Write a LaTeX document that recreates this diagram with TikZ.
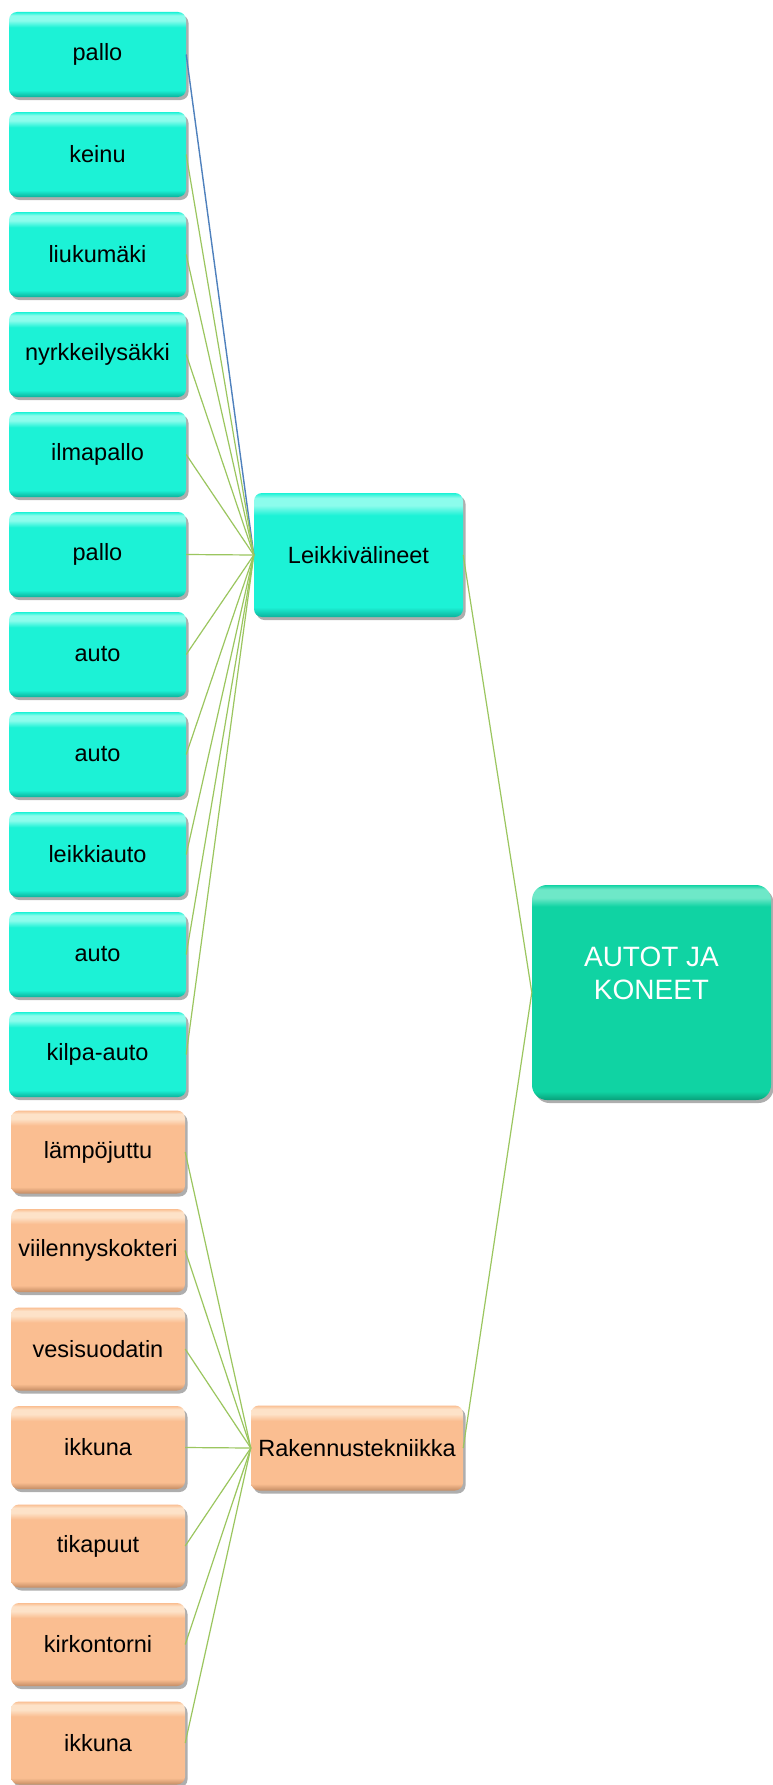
\documentclass[tikz,border=0pt]{standalone}
\usepackage{fontspec}
\setmainfont{Liberation Sans}
\usetikzlibrary{shadows}

\definecolor{cyanB}{RGB}{28,242,214}
\definecolor{cyanL}{RGB}{140,252,236}
\definecolor{cyanD}{RGB}{12,178,156}
\definecolor{orangeB}{RGB}{250,190,145}
\definecolor{orangeL}{RGB}{253,226,200}
\definecolor{orangeD}{RGB}{196,140,100}
\definecolor{tealB}{RGB}{16,211,163}
\definecolor{tealL}{RGB}{110,232,200}
\definecolor{tealD}{RGB}{8,160,122}
\definecolor{linkgreen}{RGB}{155,198,95}
\definecolor{linkblue}{RGB}{79,129,189}

% bevelled fills: dark bottom rim, flat body, light band under the top edge
\pgfdeclareverticalshading{cyanbevel}{100bp}{color(0bp)=(cyanD); color(25bp)=(cyanD); color(29bp)=(cyanB); color(66bp)=(cyanB); color(70bp)=(cyanL); color(73bp)=(cyanL); color(75bp)=(cyanB); color(100bp)=(cyanB)}
\pgfdeclareverticalshading{orangebevel}{100bp}{color(0bp)=(orangeD); color(25bp)=(orangeD); color(29bp)=(orangeB); color(66bp)=(orangeB); color(70bp)=(orangeL); color(73bp)=(orangeL); color(75bp)=(orangeB); color(100bp)=(orangeB)}
\pgfdeclareverticalshading{tealbevel}{100bp}{color(0bp)=(tealD); color(25bp)=(tealD); color(27bp)=(tealB); color(70bp)=(tealB); color(72bp)=(tealL); color(74bp)=(tealL); color(75bp)=(tealB); color(100bp)=(tealB)}

\begin{document}
\begin{tikzpicture}[x=1pt,y=1pt,
  box/.style={rounded corners=8pt, inner sep=0pt, align=center,
    font=\fontsize{23.5}{28}\selectfont, text=black,
    drop shadow={shadow xshift=2.5pt, shadow yshift=-3pt, opacity=0.45, fill=black!70}},
  leaf/.style={box, minimum width=177pt, minimum height=85pt, shading=cyanbevel},
  oleaf/.style={box, minimum width=174pt, minimum height=83pt, shading=orangebevel},
  link/.style={draw=linkgreen, line width=1.2pt},
  bluelink/.style={draw=linkblue, line width=1.4pt}]

\useasboundingbox (0,-1785) rectangle (773,0);
\fill[white] (0,-1785) rectangle (773,0);

% leaf items, left column
\foreach \t [count=\i from 0] in {pallo,keinu,liukumäki,nyrkkeilysäkki,ilmapallo,pallo,auto,auto,leikkiauto,auto,kilpa-auto}
  \node[leaf] (c\i) at (97.5,{-(54.5+100*\i)}) {\t};
\foreach \t [count=\i from 11] in {lämpöjuttu,viilennyskokteri,vesisuodatin,ikkuna,tikapuut,kirkontorni,ikkuna}
  \node[oleaf] (c\i) at (98,{-(1152+98.5*(\i-11))}) {\t};

% category nodes
\node[box, minimum width=209pt, minimum height=124pt, shading=cyanbevel] (L) at (358.5,-555) {Leikkivälineet};
\node[box, minimum width=212pt, minimum height=85pt, shading=orangebevel] (R) at (357,-1448) {Rakennustekniikka};

% root
\node[box, rounded corners=15pt, minimum width=239pt, minimum height=215pt, shading=tealbevel,
      text=white, font=\fontsize{28}{33}\selectfont] (A) at (651.5,-992.5) {AUTOT JA\\KONEET\\[6pt]};

% connectors
\draw[bluelink] (c0.east) -- (L.west);
\foreach \i in {1,...,10} \draw[link] (c\i.east) -- (L.west);
\foreach \i in {11,...,17} \draw[link] (c\i.east) -- (R.west);
\draw[link] (L.east) -- (A.west);
\draw[link] (R.east) -- (A.west);
\end{tikzpicture}
\end{document}
